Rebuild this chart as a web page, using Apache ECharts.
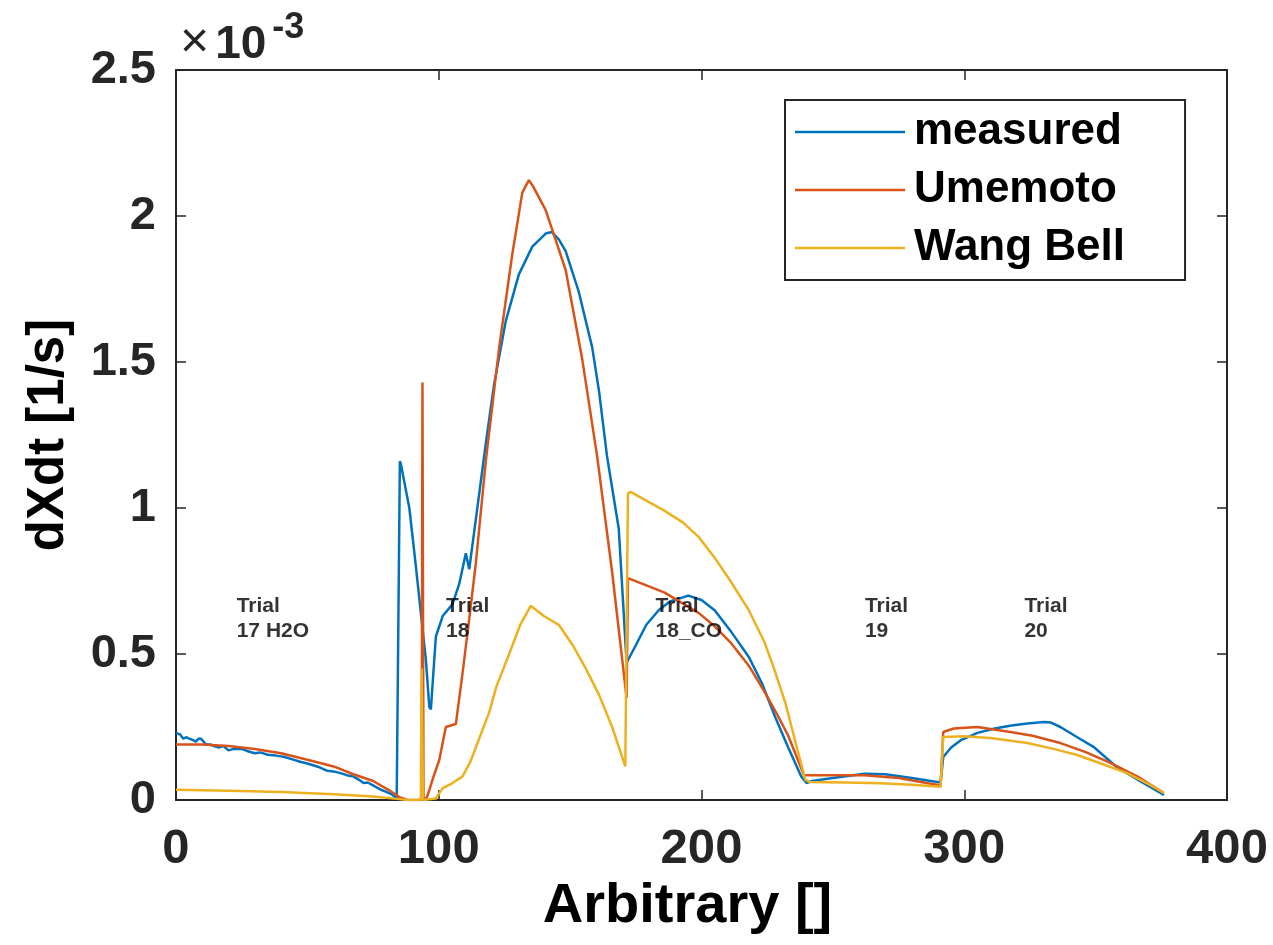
<!DOCTYPE html>
<html>
<head>
<meta charset="utf-8">
<script src="https://cdn.jsdelivr.net/npm/echarts@6/dist/echarts.min.js"></script>
<style>
html,body{margin:0;padding:0;background:#fff;}
#chart{width:1273px;height:945px;}
</style>
</head>
<body>
<div id="chart"></div>
<script>
// ---- data (values in units of 1e-3 1/s) ----
const measuredX = [0,1.5,2.8,4,5,6.5,7.6,8.5,9.5,11.4,13,14.5,16.4,18,20,22,25,27,30,32,35,38,41,44,47.6,50,54,57.6,60,62.6,65,67.6,69.5,71.4,73,75,78,80,82,84,84.7,85.2,85.6,88.8,91.3,93.2,95.1,96.4,97,98.9,101.5,105.2,107.8,110.3,111.6,114.1,117.9,121,125.5,130.5,135.6,140.7,143,145.7,148.3,153.3,158.4,161,164,168.5,171.5,175,179,183.7,188,195,200,205,211,218,223,228,233,238,240,242,250,262,270,280,291,292,295,298.7,305,311.6,318,324,330.5,333,336.6,343,349.5,358,366,376];
const measuredY = [0.23,0.225,0.21,0.215,0.21,0.205,0.20,0.21,0.21,0.19,0.19,0.185,0.18,0.185,0.17,0.175,0.175,0.168,0.16,0.163,0.155,0.152,0.148,0.14,0.13,0.125,0.114,0.10,0.098,0.092,0.085,0.08,0.07,0.058,0.06,0.05,0.035,0.028,0.02,0.005,0.0,1.16,1.15,1.0,0.80,0.64,0.48,0.32,0.31,0.56,0.63,0.67,0.74,0.845,0.79,0.96,1.22,1.42,1.64,1.80,1.895,1.94,1.945,1.92,1.88,1.74,1.55,1.40,1.18,0.93,0.47,0.53,0.60,0.65,0.68,0.70,0.685,0.65,0.58,0.49,0.40,0.285,0.18,0.08,0.058,0.065,0.075,0.09,0.088,0.075,0.06,0.147,0.18,0.205,0.23,0.245,0.255,0.262,0.267,0.265,0.25,0.215,0.18,0.113,0.07,0.017];

const umemotoX = [0,10,20,30,40,50,60,67,75,81,85,88,93.5,93.8,94.2,95.5,96.4,98,100.2,102.7,105.2,106.5,109,111.6,114.1,117.9,123,128,131.8,134.3,136,140.7,148.3,154.6,160.3,166,171.5,172,179,186,199,205,211,218,224,229,233,239,240,262,275,291,292,296,305,317.6,326,336.6,346,355.6,366,376];
const umemotoY = [0.19,0.19,0.185,0.175,0.16,0.138,0.115,0.09,0.065,0.034,0.01,0.0,0.0,1.43,0.0,0.01,0.034,0.08,0.137,0.25,0.257,0.26,0.43,0.62,0.81,1.16,1.55,1.87,2.08,2.123,2.10,2.02,1.815,1.51,1.176,0.78,0.35,0.76,0.735,0.71,0.64,0.595,0.54,0.46,0.37,0.29,0.22,0.085,0.085,0.085,0.075,0.05,0.233,0.245,0.25,0.233,0.22,0.195,0.165,0.127,0.08,0.024];

const wangBellX = [0,20,40,60,75,85,88,93.2,93.5,94,98.9,101.4,105.2,109,112,114.1,119.2,122,126.8,131,135,140,145.7,151,156,161,166,171,172,173,180,186,193,199,205,211,218,224,228,232,236,239.5,241,255,268,280,291,292,300,310,324,334,343,352,362,370,376];
const wangBellY = [0.035,0.032,0.027,0.02,0.012,0.003,0.0,0.0,0.45,0.0,0.005,0.04,0.058,0.08,0.13,0.18,0.30,0.39,0.50,0.60,0.665,0.63,0.60,0.53,0.45,0.36,0.25,0.115,1.05,1.055,1.02,0.99,0.95,0.90,0.83,0.75,0.65,0.54,0.44,0.33,0.19,0.07,0.062,0.06,0.057,0.052,0.045,0.216,0.218,0.212,0.195,0.175,0.154,0.125,0.092,0.055,0.024];

const seriesNames = ['measured','Umemoto','Wang Bell'];
const annotText = ['Trial\n17 H2O','Trial\n18','Trial\n18_CO','Trial\n19','Trial\n20'];
const annotX = [23.1, 102.8, 182.5, 262.2, 322.9];
const annotY = [0.707, 0.707, 0.707, 0.707, 0.707];
const xTicks = [0, 400, 100];     // min, max, interval
const yTicks = [0, 2.5, 0.5];     // min, max, interval

// ---- build ----
function pairs(xs, ys){ return xs.map((x,i)=>[x, ys[i]]); }
const FONT = 'Liberation Sans, Arial, Helvetica, sans-serif';
const AX = '#262626';
const colors = ['#0072BD','#D95319','#EDB120'];

const chart = echarts.init(document.getElementById('chart'), null, {renderer:'canvas'});
const axisCommon = {
  axisLine:{show:true,onZero:false,lineStyle:{color:AX,width:2}},
  axisTick:{show:true,inside:true,length:10,lineStyle:{color:AX,width:1.5}},
  splitLine:{show:false}
};
chart.setOption({
  animation:false,
  backgroundColor:'#fff',
  grid:{left:176,right:46,top:70,bottom:145,containLabel:false},
  legend:{
    data:seriesNames.map(n=>({name:n,icon:'rect'})),
    orient:'vertical',
    left:785, top:100,
    itemWidth:110, itemHeight:2.5, itemGap:14,
    padding:[10,60,10,10],
    borderColor:AX, borderWidth:2, backgroundColor:'#fff',
    textStyle:{fontFamily:FONT,fontSize:44,fontWeight:'bold',color:'#000',lineHeight:44,padding:[0,0,0,4]}
  },
  xAxis:[
    Object.assign({type:'value',position:'bottom',min:xTicks[0],max:xTicks[1],interval:xTicks[2],
      name:'Arbitrary []',nameLocation:'middle',nameGap:56,
      nameTextStyle:{fontFamily:FONT,fontSize:56,fontWeight:'bold',color:'#000',padding:[0,28,0,0]},
      axisLabel:{fontFamily:FONT,fontSize:49,fontWeight:'bold',color:'#262626',margin:25}},axisCommon),
    Object.assign({type:'value',position:'top',min:xTicks[0],max:xTicks[1],interval:xTicks[2],
      axisLabel:{show:false}},axisCommon)
  ],
  yAxis:[
    Object.assign({type:'value',position:'left',min:yTicks[0],max:yTicks[1],interval:yTicks[2],
      name:'dXdt [1/s]',nameLocation:'middle',nameGap:102,
      nameTextStyle:{fontFamily:FONT,fontSize:51,fontWeight:'bold',color:'#000'},
      axisLabel:{fontFamily:FONT,fontSize:47,fontWeight:'bold',color:'#262626',margin:20}},axisCommon),
    Object.assign({type:'value',position:'right',min:yTicks[0],max:yTicks[1],interval:yTicks[2],
      axisLabel:{show:false}},axisCommon)
  ],
  graphic:[{
    type:'text', left:180, top:10, z:10,
    style:{
      text:'{x|×}{b|10}{s|-3}',
      rich:{
        x:{fontFamily:FONT,fontSize:50,fontWeight:'normal',fill:'#262626',verticalAlign:'bottom',padding:[0,6,0,0]},
        b:{fontFamily:FONT,fontSize:46,fontWeight:'bold',fill:'#262626',verticalAlign:'bottom'},
        s:{fontFamily:FONT,fontSize:36,fontWeight:'bold',fill:'#262626',verticalAlign:'top',padding:[0,0,22,6]}
      }
    }
  }],
  series:[
    {name:seriesNames[0],type:'line',data:pairs(measuredX,measuredY),showSymbol:false,symbol:'none',
      lineStyle:{color:colors[0],width:2.5},itemStyle:{color:colors[0]}},
    {name:seriesNames[1],type:'line',data:pairs(umemotoX,umemotoY),showSymbol:false,symbol:'none',
      lineStyle:{color:colors[1],width:2.5},itemStyle:{color:colors[1]}},
    {name:seriesNames[2],type:'line',data:pairs(wangBellX,wangBellY),showSymbol:false,symbol:'none',
      lineStyle:{color:colors[2],width:2.5},itemStyle:{color:colors[2]}},
    {name:'annotations',type:'scatter',symbolSize:0,silent:true,z:5,
      data:annotX.map((x,i)=>({value:[x,annotY[i]],name:annotText[i]})),
      label:{show:true,position:[0,0],align:'left',verticalAlign:'top',
        formatter:p=>p.name,
        fontFamily:FONT,fontSize:21,fontWeight:'bold',color:'#000',lineHeight:25}}
  ]
});
</script>
</body>
</html>
